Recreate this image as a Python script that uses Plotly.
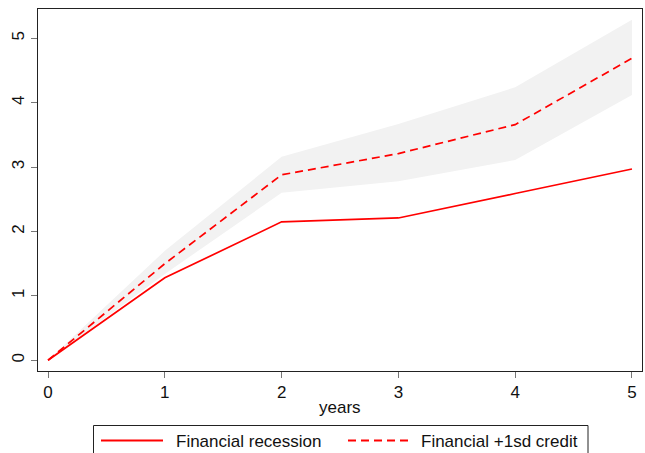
import plotly.graph_objects as go

years = [0, 1, 2, 3, 4, 5]
financial_recession = [0, 1.28, 2.15, 2.21, 2.59, 2.97]
financial_credit = [0, 1.50, 2.88, 3.21, 3.66, 4.69]
band_upper = [0, 1.70, 3.16, 3.67, 4.24, 5.29]
band_lower = [0, 1.34, 2.60, 2.78, 3.11, 4.12]
x_ticks = [0, 1, 2, 3, 4, 5]
y_ticks = [0, 1, 2, 3, 4, 5]
series_names = ["Financial recession", "Financial +1sd credit"]
x_title = "years"

FONT = "Liberation Sans, Arial"
RED = "#ff0000"

fig = go.Figure()
fig.add_trace(go.Scatter(x=years, y=band_upper, mode="lines", line=dict(width=0),
                         showlegend=False, hoverinfo="skip"))
fig.add_trace(go.Scatter(x=years, y=band_lower, mode="lines", line=dict(width=0),
                         fill="tonexty", fillcolor="#f2f2f2", showlegend=False, hoverinfo="skip"))
fig.add_trace(go.Scatter(x=years, y=financial_recession, mode="lines",
                         line=dict(color=RED, width=1.7), name=series_names[0], showlegend=False))
fig.add_trace(go.Scatter(x=years, y=financial_credit, mode="lines",
                         line=dict(color=RED, width=1.7, dash="8px,5px"),
                         name=series_names[1], showlegend=False))

axis_common = dict(showline=True, linecolor="#222222", linewidth=1, mirror=True,
                   ticks="outside", ticklen=6, tickcolor="#777777", showgrid=False,
                   zeroline=False, automargin=False,
                   tickfont=dict(family=FONT, size=17, color="#111111"))

fig.update_xaxes(range=[-0.086, 5.086], tickvals=x_ticks, **axis_common)
fig.update_yaxes(range=[-0.167, 5.456], tickvals=y_ticks, tickangle=-90, **axis_common)

# legend box drawn in paper coordinates below the plot (clipped by page bottom like reference)
W, H = 604.0, 362.0
def px(xp):
    return (xp - 38) / W
def py(yp):
    return (371 - yp) / H

shapes = [
    dict(type="rect", xref="paper", yref="paper", x0=px(93.5), x1=px(588), y0=py(470), y1=py(425.5),
         line=dict(color="#222222", width=1), fillcolor="white", layer="above"),
    dict(type="line", xref="paper", yref="paper", x0=px(101), x1=px(163), y0=py(440.5), y1=py(440.5),
         line=dict(color=RED, width=1.8)),
    dict(type="line", xref="paper", yref="paper", x0=px(348), x1=px(410), y0=py(440.5), y1=py(440.5),
         line=dict(color=RED, width=1.8, dash="8px,5px")),
]
annotations = [
    dict(text=series_names[0], xref="paper", yref="paper", x=px(174), y=py(441), xanchor="left",
         yanchor="middle", showarrow=False, font=dict(family=FONT, size=17, color="#111111")),
    dict(text=series_names[1], xref="paper", yref="paper", x=px(419), y=py(441), xanchor="left",
         yanchor="middle", showarrow=False, font=dict(family=FONT, size=17, color="#111111")),
    dict(text=x_title, xref="paper", yref="paper", x=0.5, y=py(407), xanchor="center",
         yanchor="middle", showarrow=False, font=dict(family=FONT, size=17, color="#111111")),
]

fig.update_layout(
    width=645, height=453,
    margin=dict(l=38, r=3, t=9, b=82),
    plot_bgcolor="white", paper_bgcolor="white",
    font=dict(family=FONT, size=17, color="#111111"),
    showlegend=False,
    shapes=shapes, annotations=annotations,
)

fig.write_html("out.html", config={"displayModeBar": False},
               post_script="document.body.style.margin='0';document.body.style.overflow='hidden';")
